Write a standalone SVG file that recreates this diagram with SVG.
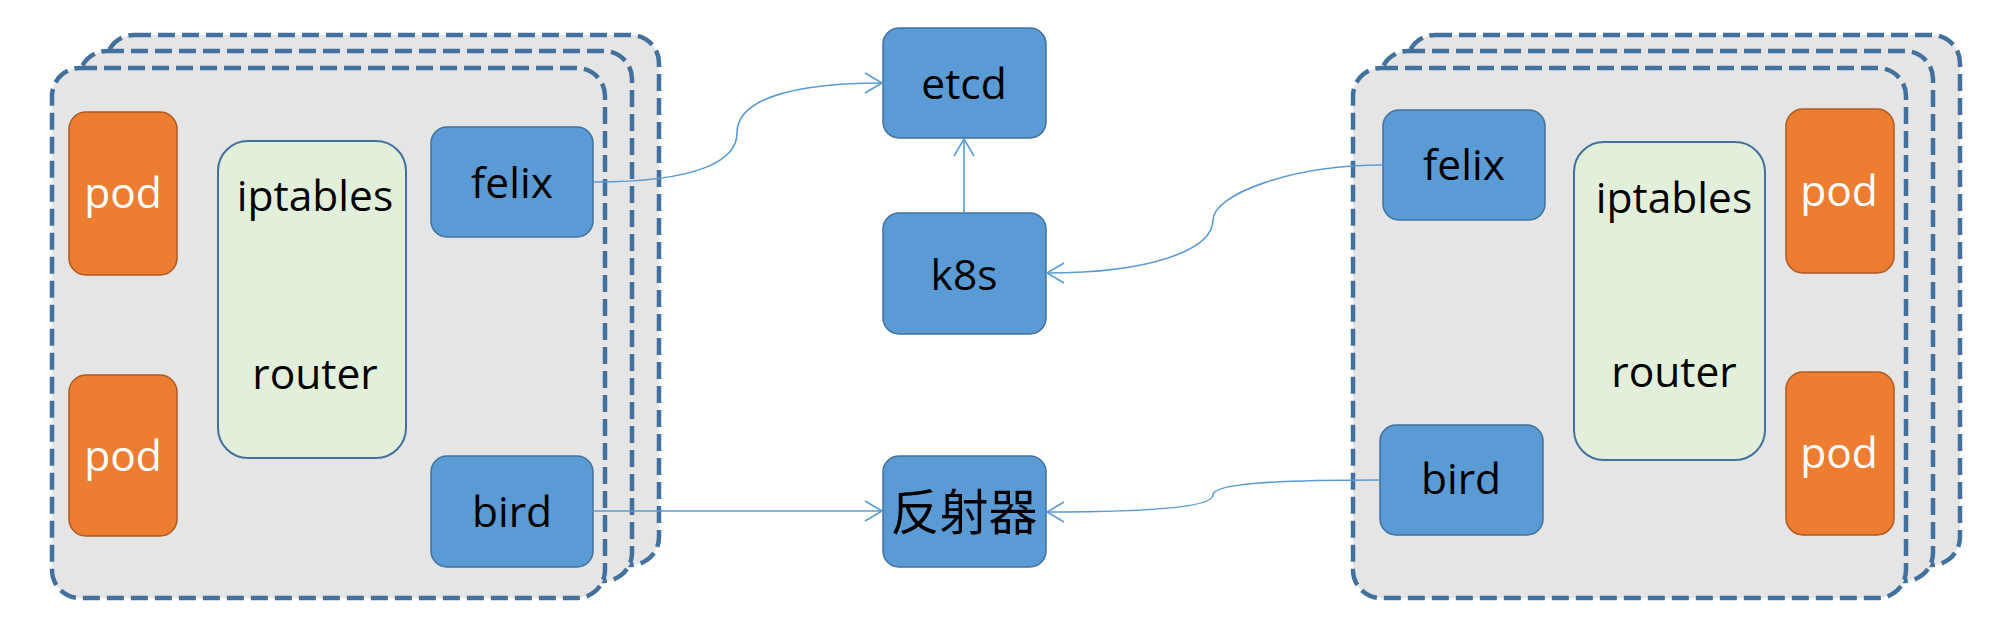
<svg xmlns="http://www.w3.org/2000/svg" width="2004" height="626" viewBox="0 0 2004 626">
<style>
.host{fill:#e5e5e5;stroke:#41719c;stroke-width:4.5;stroke-dasharray:17 7}
.blue{fill:#5b9bd5;stroke:#41719c;stroke-width:1.5}
.pod{fill:#ed7d31;stroke:#ae5a21;stroke-width:1.5}
.rt{fill:#e2efda;stroke:#41719c;stroke-width:2}
.t{font-family:"Open Sans","Liberation Sans",sans-serif;font-size:42.5px;text-anchor:middle;fill:#000}
.w{fill:#fff}
.cjk{font-family:"Noto Sans CJK SC","Noto Sans CJK JP",sans-serif;font-size:49px;text-anchor:middle;fill:#000}
.c{fill:none;stroke:#5b9bd5;stroke-width:1.6}
</style>
<defs>
<marker id="arr" viewBox="-2 -2 22 24" refX="17" refY="10" markerWidth="22" markerHeight="24" markerUnits="userSpaceOnUse" orient="auto">
<path d="M0,0 L17,10 L0,20" fill="none" stroke="#5b9bd5" stroke-width="1.6"/>
</marker>
</defs>

<g id="host-left">
<rect class="host" x="106" y="35" width="553" height="530" rx="28"/>
<rect class="host" x="79" y="51" width="553" height="530" rx="28"/>
<rect class="host" x="52" y="68" width="553" height="530" rx="28"/>
</g>
<g id="pod-l1"><rect class="pod" x="69" y="112" width="108" height="163" rx="17"/><text class="t w" x="123" y="208">pod</text></g>
<g id="pod-l2"><rect class="pod" x="69" y="375" width="108" height="161" rx="17"/><text class="t w" x="123" y="471">pod</text></g>
<g id="router-l"><rect class="rt" x="218" y="141" width="188" height="317" rx="30"/><text class="t" x="315" y="211">iptables</text><text class="t" x="315" y="389">router</text></g>
<g id="felix-l"><rect class="blue" x="431" y="127" width="162" height="110" rx="16"/><text class="t" x="512" y="198">felix</text></g>
<g id="bird-l"><rect class="blue" x="431" y="456" width="162" height="111" rx="16"/><text class="t" x="512" y="527">bird</text></g>

<g id="etcd"><rect class="blue" x="883" y="28" width="163" height="110" rx="16"/><text class="t" x="964" y="99">etcd</text></g>
<g id="k8s"><rect class="blue" x="883" y="213" width="163" height="121" rx="16"/><text class="t" x="964" y="290">k8s</text></g>
<g id="reflector"><rect class="blue" x="883" y="456" width="163" height="111" rx="16"/><text class="cjk" x="964" y="530">反射器</text></g>

<g id="host-right">
<rect class="host" x="1407" y="35" width="553" height="530" rx="28"/>
<rect class="host" x="1380" y="51" width="553" height="530" rx="28"/>
<rect class="host" x="1353" y="68" width="553" height="530" rx="28"/>
</g>
<g id="felix-r"><rect class="blue" x="1383" y="110" width="162" height="110" rx="16"/><text class="t" x="1464" y="180">felix</text></g>
<g id="bird-r"><rect class="blue" x="1380" y="425" width="163" height="110" rx="16"/><text class="t" x="1461" y="494">bird</text></g>
<g id="router-r"><rect class="rt" x="1574" y="142" width="191" height="318" rx="30"/><text class="t" x="1674" y="213">iptables</text><text class="t" x="1674" y="387">router</text></g>
<g id="pod-r1"><rect class="pod" x="1786" y="109" width="108" height="164" rx="17"/><text class="t w" x="1839" y="206">pod</text></g>
<g id="pod-r2"><rect class="pod" x="1786" y="372" width="108" height="163" rx="17"/><text class="t w" x="1839" y="468">pod</text></g>

<g id="connectors">
<path class="c" marker-end="url(#arr)" d="M593,182 C700,182 737,160 737,133 C737,100 790,83 882,83"/>
<path class="c" marker-end="url(#arr)" d="M964,213 L964,139"/>
<path class="c" marker-end="url(#arr)" d="M1383,165 C1290,165 1213,195 1213,220 C1213,250 1150,273 1047,273"/>
<path class="c" marker-end="url(#arr)" d="M593,511 L882,511"/>
<path class="c" marker-end="url(#arr)" d="M1380,480 C1280,480 1213,483 1213,495 C1213,507 1150,512 1047,512"/>
</g>
</svg>
